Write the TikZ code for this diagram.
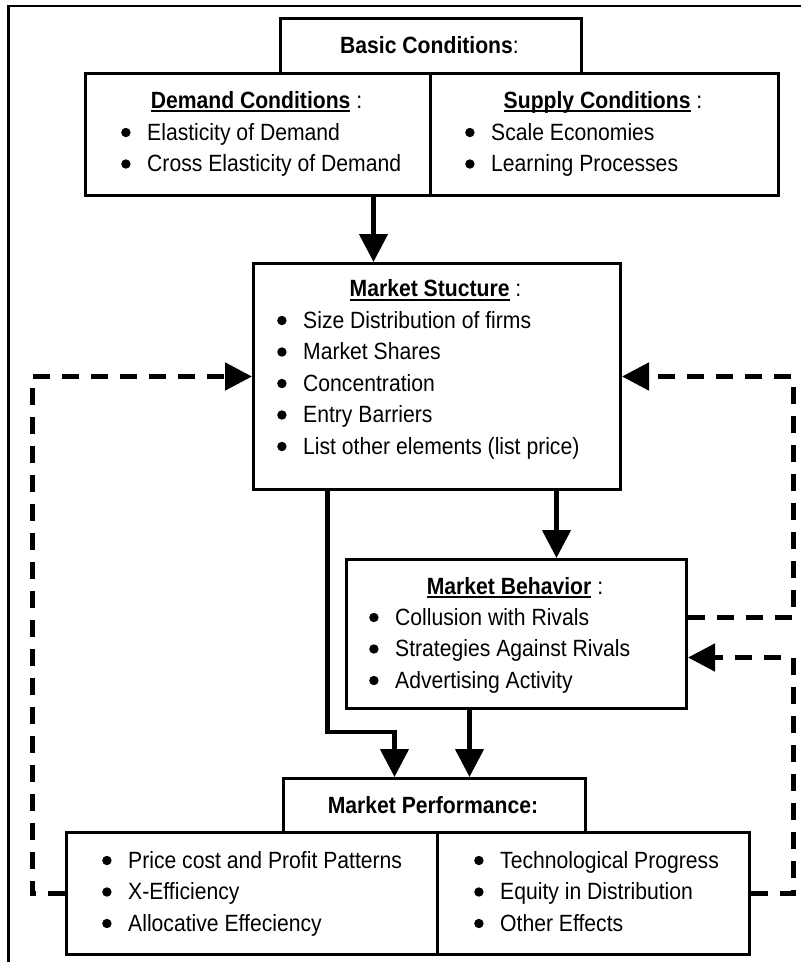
\documentclass[tikz,border=0pt]{standalone}
\usepackage{fontspec}
\setmainfont{Liberation Sans}[FakeStretch=0.9]
\usetikzlibrary{arrows.meta}
\newcommand{\undl}[1]{\sbox0{\textbf{#1}}\rlap{\rule[-4pt]{\wd0}{2pt}}\usebox0}
\newcommand{\bl}{\makebox[26pt][l]{\raisebox{2.8pt}{\tikz[x=1pt,y=1pt]\fill (0,0) circle (4.7pt);}}}
\begin{document}
\begin{tikzpicture}[x=1pt,y=-1pt,
	font=\fontsize{23.5}{31.5}\selectfont,
	panel/.style={draw,line width=3pt,anchor=north west,inner sep=0pt},
	head/.style={anchor=base,inner sep=0pt},
	items/.style={anchor=base west,inner sep=0pt},
	flow/.style={line width=4.5pt,-{Triangle[length=28pt,width=28pt]}},
	fb/.style={line width=5pt,dash pattern=on 17pt off 12pt,-{Triangle[length=27pt,width=27pt]}},
	frame/.style={line width=2.5pt}]
		\fill[white] (0,0) rectangle (801,962);
		\useasboundingbox (0,0) rectangle (801,962);
		\clip (0,0) rectangle (801,962);
		\draw[frame] (8.5,6) rectangle (830,990);
		\node[panel,minimum width=301,minimum height=55] (basic) at (279,17) {};
		\node[panel,minimum width=345,minimum height=122] (demand) at (84,72) {};
		\node[panel,minimum width=348,minimum height=122] (supply) at (429,72) {};
		\node[panel,minimum width=367,minimum height=226] (structure) at (252,262) {};
		\node[panel,minimum width=340,minimum height=149] (behavior) at (345,558) {};
		\node[panel,minimum width=302,minimum height=54] (perftitle) at (282,777) {};
		\node[panel,minimum width=371,minimum height=122] (perfleft) at (65,831) {};
		\node[panel,minimum width=312,minimum height=122] (perfright) at (436,831) {};
		\node[head] (basichead) at (429.5,53) {\textbf{Basic Conditions}:};
		\node[head] (demandhead) at (256.5,108) {\undl{Demand Conditions} :};
		\node[head] (supplyhead) at (603,108) {\undl{Supply Conditions} :};
		\node[head] (structurehead) at (435.5,296.5) {\undl{Market Stucture} :};
		\node[head] (behaviorhead) at (515,594) {\undl{Market Behavior} :};
		\node[head] (perfhead) at (433,813) {\textbf{Market Performance:}};
		\node[items] (demandlist) at (121,140) {\begin{tabular}[t]{@{}l@{}}\bl Elasticity of Demand\\\bl Cross Elasticity of Demand\end{tabular}};
		\node[items] (supplylist) at (465,140) {\begin{tabular}[t]{@{}l@{}}\bl Scale Economies\\\bl Learning Processes\end{tabular}};
		\node[items] (structurelist) at (277,328) {\begin{tabular}[t]{@{}l@{}}\bl Size Distribution of firms\\\bl Market Shares\\\bl Concentration\\\bl Entry Barriers\\\bl List other elements (list price)\end{tabular}};
		\node[items] (behaviorlist) at (369,625) {\begin{tabular}[t]{@{}l@{}}\bl Collusion with Rivals\\\bl Strategies Against Rivals\\\bl Advertising Activity\end{tabular}};
		\node[items] (perfleftlist) at (102,868) {\begin{tabular}[t]{@{}l@{}}\bl Price cost and Profit Patterns\\\bl X-Efficiency\\\bl Allocative Effeciency\end{tabular}};
		\node[items] (perfrightlist) at (474,868) {\begin{tabular}[t]{@{}l@{}}\bl Technological Progress\\\bl Equity in Distribution\\\bl Other Effects\end{tabular}};
		\draw[flow] ([xshift=115.5]demand.south) -- ([xshift=-63.5]structure.north);
		\draw[flow] ([xshift=119.5]structure.south) -- ([xshift=40]behavior.north);
		\draw[flow] ([xshift=-109.5]structure.south) -- ++(0,241) -| ([xshift=-40]perftitle.north);
		\draw[flow] ([xshift=-47]behavior.south) -- ([xshift=35]perftitle.north);
		\draw[fb] (perfleft.west) -- ++(-33,0) |- (structure.west);
		\draw[fb] ([yshift=16.5]behavior.east) -- ++(105,0) |- (structure.east);
		\draw[fb] (perfright.east) -- ++(42,0) |- ([yshift=-23.5]behavior.east);
\end{tikzpicture}
\end{document}
